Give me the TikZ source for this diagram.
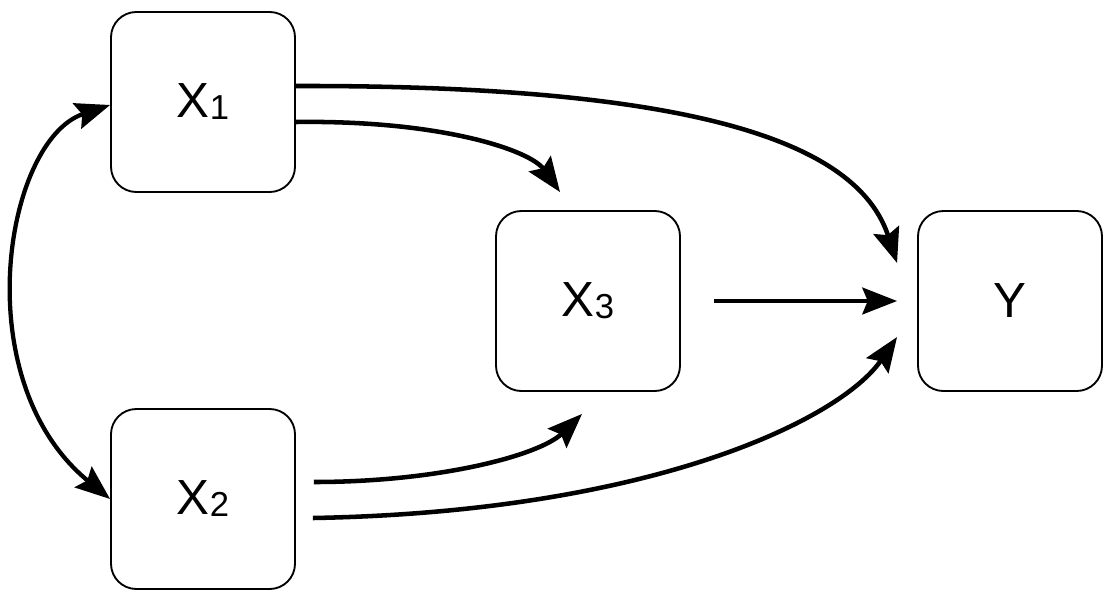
\documentclass[tikz,border=0pt]{standalone}
\usepackage{fontspec}
\setmainfont{Liberation Sans}
\usetikzlibrary{arrows.meta,calc}
% variable name with a small, slightly lowered index
\newcommand\varname[2]{#1\raisebox{-1.5pt}{\fontsize{26}{26}\selectfont #2}}
\begin{document}
\begin{tikzpicture}[x=0.75pt,y=-0.75pt,
  var/.style={draw, line width=1.4pt, rounded corners=19pt,
    minimum width=138pt, minimum height=135pt, inner sep=0pt,
    font=\fontsize{37}{40}\selectfont},
  tip/.tip={Stealth[length=26pt,width=20pt,inset=4pt]},
  link/.style={line width=3.4pt, -tip},
  bilink/.style={line width=3.2pt, tip-tip},
]
\useasboundingbox (0,0) rectangle (1109,589);

% variables
\node[var] (x1) at (203,102) {\varname{X}{1}};
\node[var] (x2) at (203,499) {\varname{X}{2}};
\node[var] (x3) at (588,301) {\varname{X}{3}};
\node[var] (y)  at (1010,301) {Y};

% correlation between the exogenous variables
\draw[bilink] ($(x1.west)+(0,3)$) .. controls (5,140) and (-35,380) .. (x2.west);

% direct and indirect paths
\draw[link] ($(x1.east)+(0,-16)$) .. controls (720,85) and (860,150) .. ($(y.west)+(-20,-38)$);
\draw[link] ($(x1.east)+(0,20)$) .. controls (440,120) and (530,150) .. ($(x3.north)+(-28,-18)$);
\draw[link] ($(x3.east)+(33,0)$) -- ($(y.west)+(-20,0)$);
\draw[link] ($(x2.east)+(18,-17)$) .. controls (440,482) and (540,455) .. ($(x3.south)+(-6,22)$);
\draw[link] ($(x2.east)+(17,19)$) .. controls (650,512) and (840,420) .. ($(y.west)+(-20,36)$);
\end{tikzpicture}
\end{document}
